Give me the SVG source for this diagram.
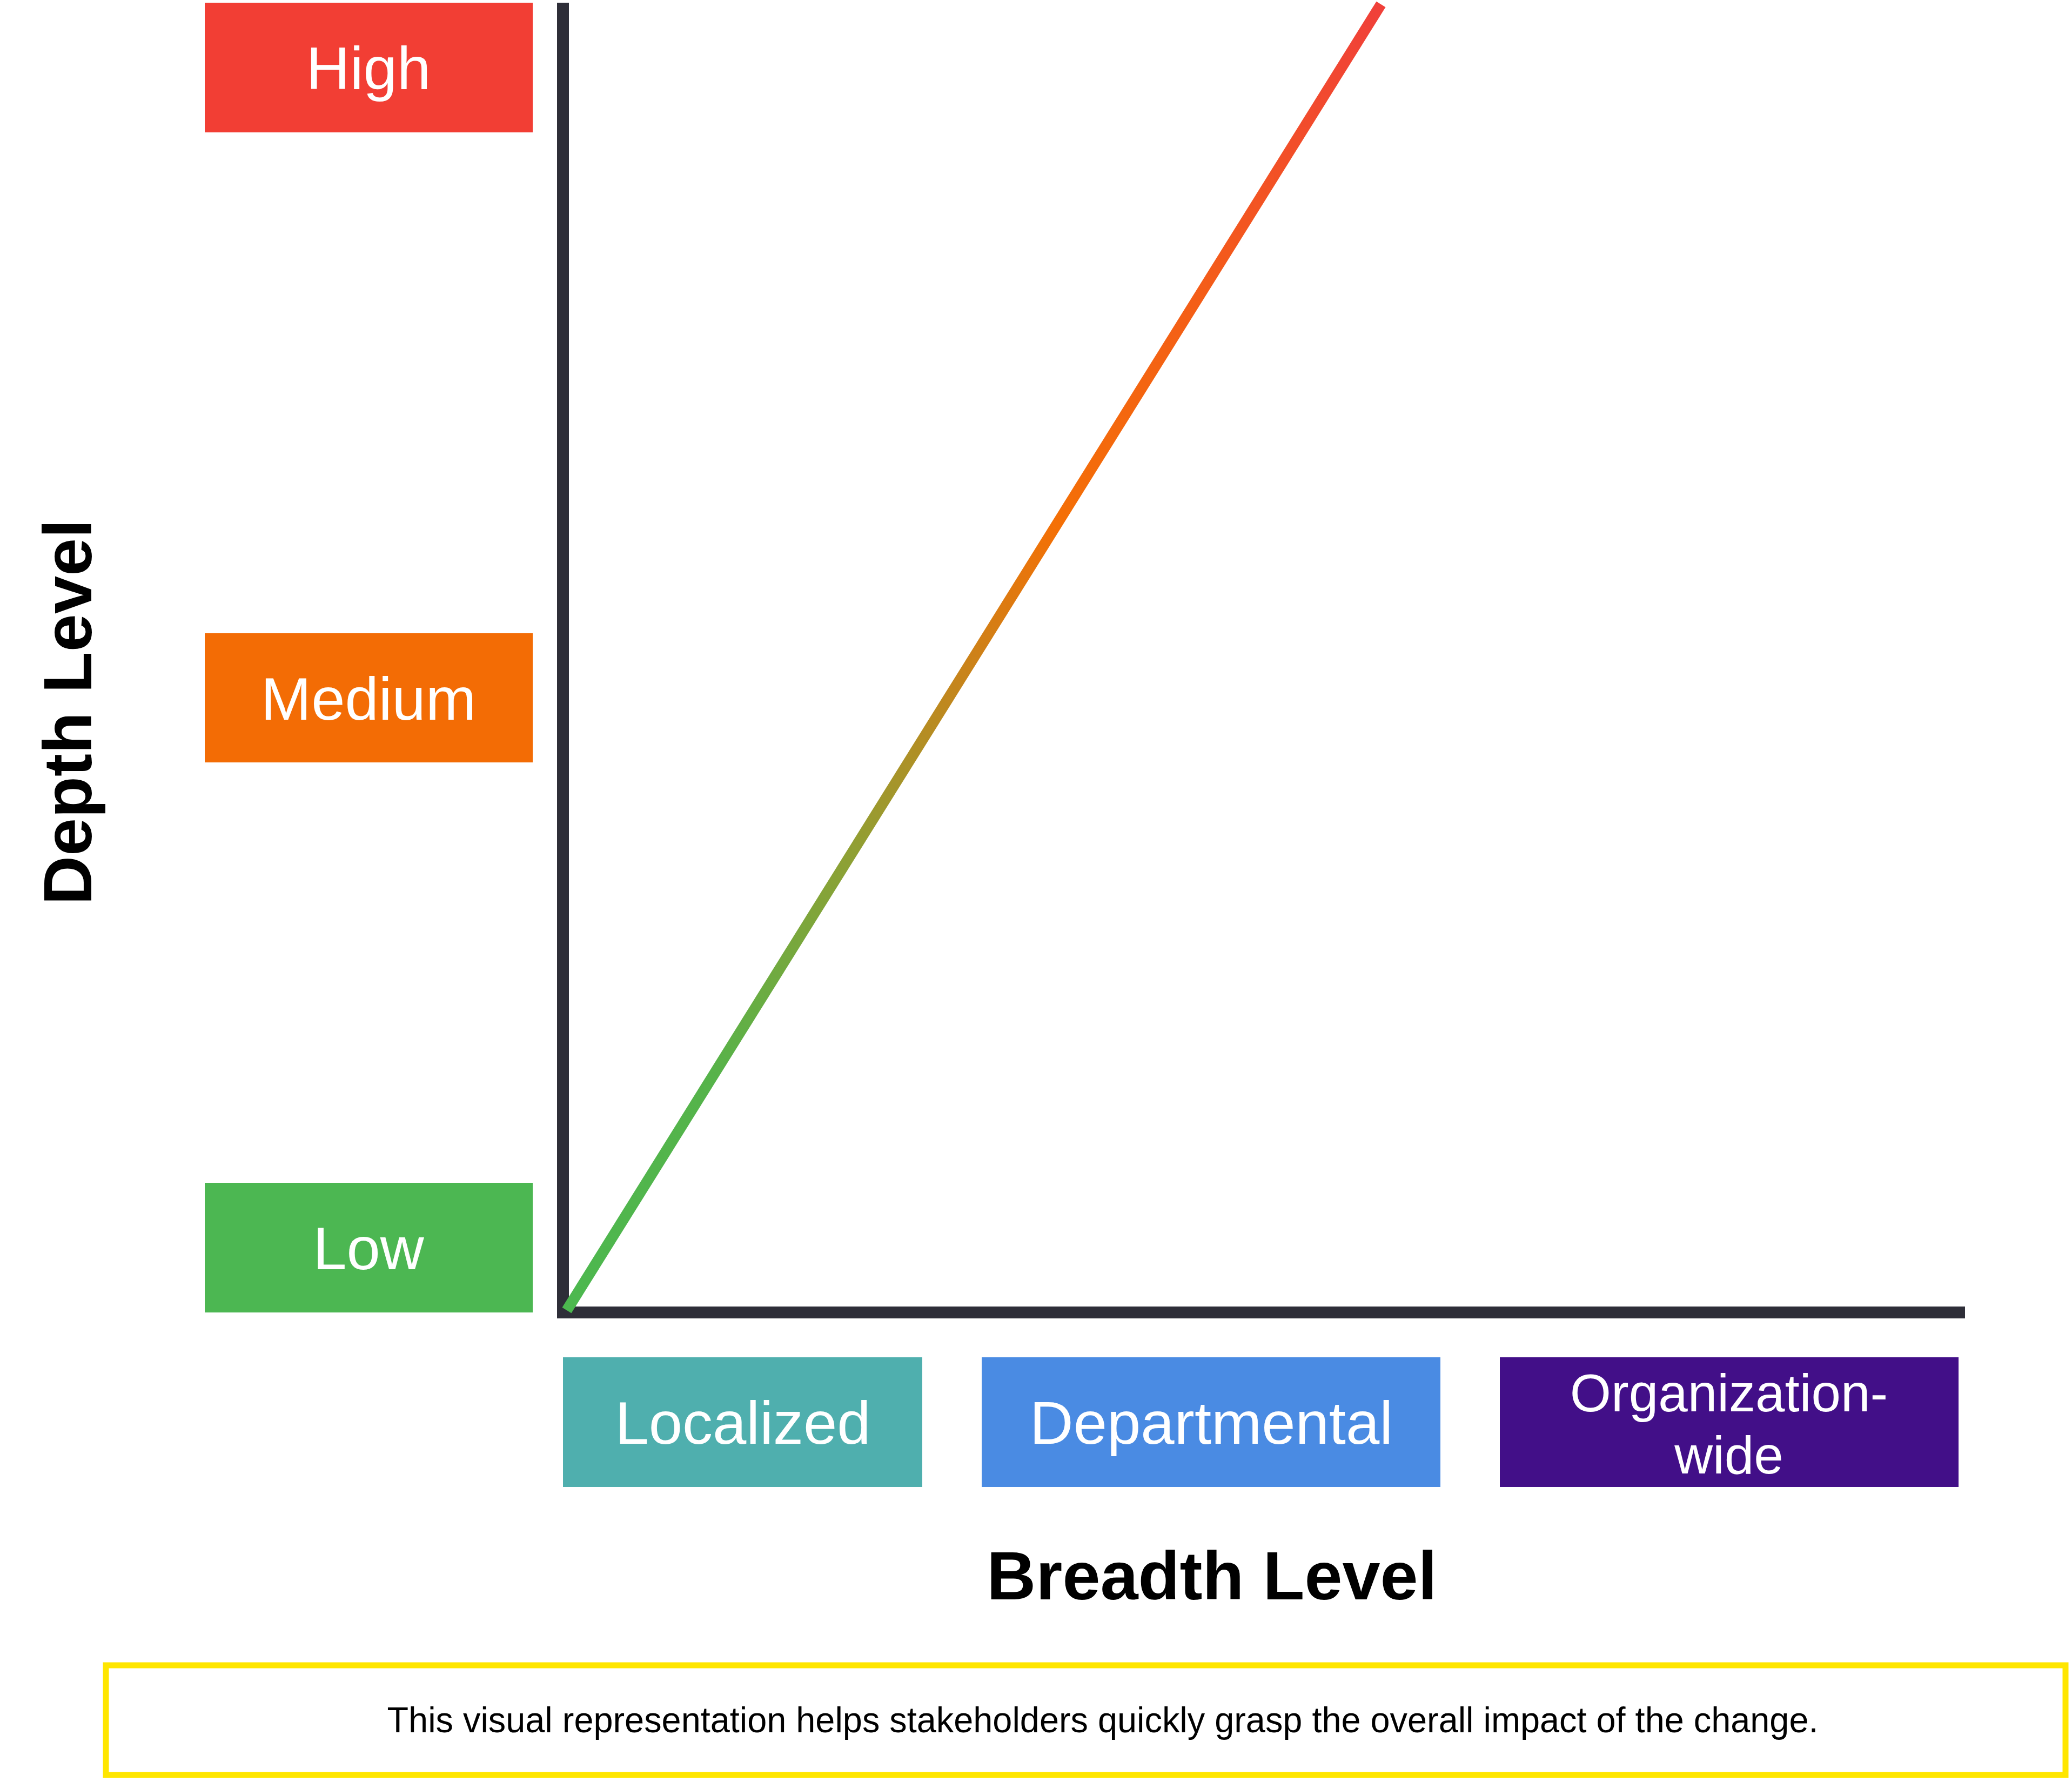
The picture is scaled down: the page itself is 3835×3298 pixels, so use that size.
<svg xmlns="http://www.w3.org/2000/svg" width="3835" height="3298" viewBox="0 0 3835 3298">
<defs>
<style>
.lbl{font-family:"Liberation Sans",Arial,sans-serif;fill:#FFFFFF;text-anchor:middle;}
.axis-title{font-family:"Liberation Sans",Arial,sans-serif;font-weight:bold;fill:#000000;text-anchor:middle;font-size:126px;}
.axis{stroke:#2E2E38;stroke-width:22;fill:none;}
</style>
<linearGradient id="trend" gradientUnits="userSpaceOnUse" x1="1049" y1="2425" x2="2556" y2="8">
<stop offset="0" stop-color="#4CB84F"/>
<stop offset="0.18" stop-color="#56B34A"/>
<stop offset="0.35" stop-color="#8FA034"/>
<stop offset="0.48" stop-color="#C5851C"/>
<stop offset="0.6" stop-color="#F47006"/>
<stop offset="0.78" stop-color="#F45D18"/>
<stop offset="1" stop-color="#F0403A"/>
</linearGradient>
</defs>
<rect width="3835" height="3298" fill="#FFFFFF"/>
<g id="connectors">
<line class="axis" x1="1042" y1="5" x2="1042" y2="2440"/>
<line class="axis" x1="1031" y1="2429" x2="3637" y2="2429"/>
<line id="trend-line" x1="1049" y1="2425" x2="2556" y2="8" stroke="url(#trend)" stroke-width="20"/>
</g>
<g id="node-high">
<rect x="379" y="5" width="607" height="240" fill="#F23E34"/>
<text class="lbl" x="682" y="165" font-size="112">High</text>
</g>
<g id="node-medium">
<rect x="379" y="1172" width="607" height="239" fill="#F36C05"/>
<text class="lbl" x="682" y="1332" font-size="112">Medium</text>
</g>
<g id="node-low">
<rect x="379" y="2189" width="607" height="240" fill="#4CB752"/>
<text class="lbl" x="682" y="2349" font-size="112">Low</text>
</g>
<g id="node-localized">
<rect x="1042" y="2512" width="665" height="240" fill="#4FAFAE"/>
<text class="lbl" x="1375" y="2672" font-size="112">Localized</text>
</g>
<g id="node-departmental">
<rect x="1817" y="2512" width="849" height="240" fill="#4A8BE3"/>
<text class="lbl" x="2242" y="2672" font-size="112">Departmental</text>
</g>
<g id="node-orgwide">
<rect x="2776" y="2512" width="849" height="240" fill="#420F88"/>
<text class="lbl" x="3200" y="2612" font-size="98">Organization-</text>
<text class="lbl" x="3200" y="2727" font-size="98">wide</text>
</g>
<g id="title-depth">
<text class="axis-title" transform="translate(169,1318) rotate(-90)" x="0" y="0">Depth Level</text>
</g>
<g id="title-breadth">
<text class="axis-title" x="2243" y="2960">Breadth Level</text>
</g>
<g id="caption">
<rect x="196" y="3082" width="3627" height="203" fill="none" stroke="#FFE600" stroke-width="11"/>
<text x="2041" y="3206" font-family="Liberation Sans, Arial, sans-serif" font-size="66" fill="#000000" text-anchor="middle" textLength="2649" lengthAdjust="spacingAndGlyphs">This visual representation helps stakeholders quickly grasp the overall impact of the change.</text>
</g>
</svg>
